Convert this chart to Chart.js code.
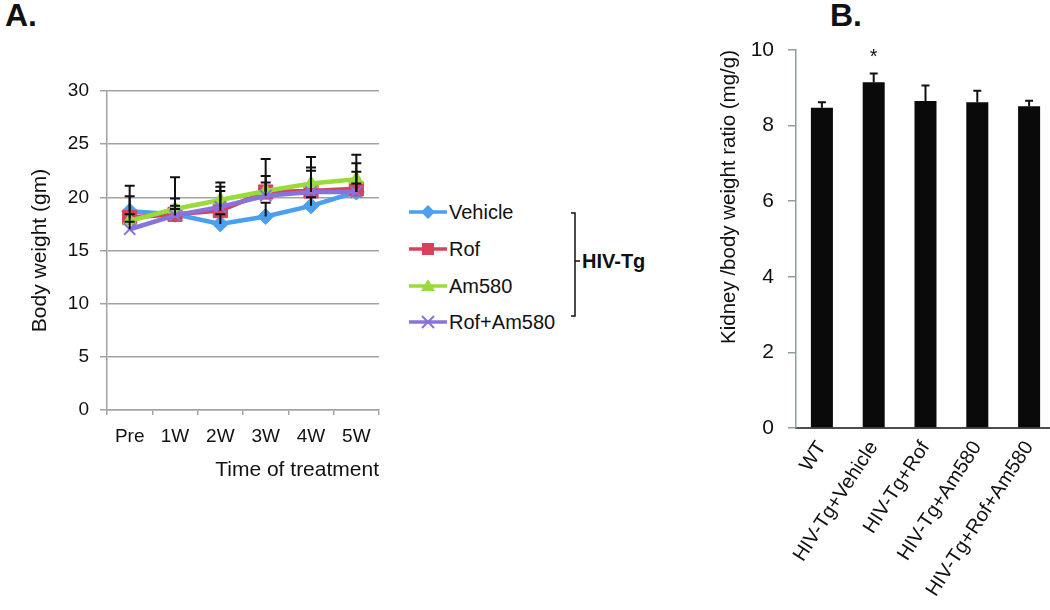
<!DOCTYPE html>
<html>
<head>
<meta charset="utf-8">
<script src="https://cdn.jsdelivr.net/npm/chart.js@4.4.1/dist/chart.umd.min.js"></script>
<style>
  html, body { margin: 0; padding: 0; width: 1050px; height: 610px; overflow: hidden; background: #fff; }
  body { position: relative; font-family: "Liberation Sans", Arial, sans-serif; color: #111; }
  .box { position: absolute; }
  .panel-label { position: absolute; font-size: 32px; font-weight: bold; line-height: 32px; }
  .leg-item { position: absolute; left: 409px; height: 24px; display: flex; align-items: center; font-size: 20px; }
  .leg-item svg { margin-right: 2px; }
</style>
</head>
<body>

<div class="panel-label" style="left:5px;top:-1px">A.</div>
<div class="panel-label" style="left:830px;top:-1px">B.</div>

<div class="box" style="left:0;top:0;width:392px;height:500px"><canvas id="weightChart"></canvas></div>
<div class="box" style="left:690px;top:0;width:370px;height:610px"><canvas id="ratioChart"></canvas></div>

<div id="legend"></div>
<svg class="box" style="left:560px;top:200px" width="30" height="130">
  <path d="M11,13 L15,13 L15,116 L11,116 M15,61 L20,61" fill="none" stroke="#111" stroke-width="1.5"/>
</svg>
<div class="box" style="left:582px;top:249px;font-size:20px;font-weight:bold;line-height:24px">HIV-Tg</div>

<script>
// ---- Panel A: body weight over time ----
const weeks       = ['Pre', '1W', '2W', '3W', '4W', '5W'];
const vehicle     = [18.7, 18.4, 17.5, 18.2, 19.2, 20.5];
const rof         = [18.1, 18.4, 18.75, 20.5, 20.6, 20.8];
const am580       = [17.8, 18.9, 19.75, 20.6, 21.3, 21.7];
const rofAm580    = [17.0, 18.3, 19.1, 20.15, 20.5, 20.5];
const vehicleErr  = [2.4, 1.5, 0.9, 1.3, 0.8, 0.8];
const rofErr      = [2.0, 0.8, 2.25, 3.1, 2.2, 2.4];
const am580Err    = [0.6, 3.0, 1.65, 1.4, 2.5, 2.3];
const rofAm580Err = [0.7, 0.6, 1.5, 1.25, 2.0, 1.9];
const weightTicks = [0, 5, 10, 15, 20, 25, 30];

// ---- Panel B: kidney / body weight ratio ----
const groups   = ['WT', 'HIV-Tg+Vehicle', 'HIV-Tg+Rof', 'HIV-Tg+Am580', 'HIV-Tg+Rof+Am580'];
const ratio    = [8.47, 9.15, 8.65, 8.62, 8.51];
const ratioErr = [0.15, 0.23, 0.41, 0.30, 0.15];
const sigMarks = ['', '*', '', '', ''];
const ratioTicks = [0, 2, 4, 6, 8, 10];

const FONT = '"Liberation Sans", Arial, sans-serif';
const TXT  = '#111';
const GRID = '#a3a3a3';

const series = [
  { label: 'Vehicle',    data: vehicle,  err: vehicleErr,  color: '#4b9ff0', style: 'rectRot', r: 8 },
  { label: 'Rof',        data: rof,      err: rofErr,      color: '#d6425c', style: 'rect',    r: 10 },
  { label: 'Am580',      data: am580,    err: am580Err,    color: '#98dc3a', style: 'triangle',r: 8 },
  { label: 'Rof+Am580',  data: rofAm580, err: rofAm580Err, color: '#8a72dc', style: 'crossRot',r: 8 },
];

// upward error bars (plus an optional significance mark) drawn through the scales
const errorBars = {
  id: 'errorBars',
  afterDatasetsDraw(chart) {
    const ctx = chart.ctx;
    const yScale = chart.scales.y;
    chart.data.datasets.forEach((ds, i) => {
      if (!ds.errorBars) return;
      const meta = chart.getDatasetMeta(i);
      ctx.save();
      ctx.strokeStyle = '#111';
      ctx.lineWidth = 2;
      meta.data.forEach((el, j) => {
        const top = yScale.getPixelForValue(ds.data[j] + ds.errorBars[j]);
        const base = yScale.getPixelForValue(ds.data[j]);
        const half = ds.capHalf || 5;
        ctx.beginPath();
        ctx.moveTo(el.x, base);
        ctx.lineTo(el.x, top);
        ctx.moveTo(el.x - half, top);
        ctx.lineTo(el.x + half, top);
        ctx.stroke();
        if (ds.marks && ds.marks[j]) {
          ctx.fillStyle = '#111';
          ctx.font = '20px ' + FONT;
          ctx.textAlign = 'center';
          ctx.textBaseline = 'middle';
          ctx.fillText(ds.marks[j], el.x, top - 16);
        }
      });
      ctx.restore();
    });
  }
};

new Chart(document.getElementById('weightChart'), {
  type: 'line',
  data: {
    labels: weeks,
    datasets: series.map((s, i) => ({
      label: s.label,
      data: s.data,
      errorBars: s.err,
      borderColor: s.color,
      backgroundColor: s.color,
      borderWidth: 4.5,
      pointStyle: s.style,
      pointRadius: s.r,
      pointBorderWidth: s.style === 'crossRot' ? 2 : 1,
      pointBorderColor: s.color,
      tension: 0,
      order: series.length - i,
    })),
  },
  options: {
    responsive: true, maintainAspectRatio: false, animation: false,
    layout: { padding: { top: 91, right: 13, bottom: 10, left: 0 } },
    plugins: { legend: { display: false }, tooltip: { enabled: false } },
    scales: {
      x: {
        offset: true,
        grid: { offset: true, drawOnChartArea: false, tickLength: 5, color: GRID, lineWidth: 1.5 },
        border: { color: GRID, width: 1.5 },
        ticks: { color: TXT, font: { family: FONT, size: 19 }, padding: 10, maxRotation: 0 },
        title: { display: true, text: 'Time of treatment', align: 'end', color: TXT,
                 font: { family: FONT, size: 21 }, padding: { top: 0, bottom: 7 } },
        afterFit: s => { s.height = 80; },
      },
      y: {
        min: 0, max: 30,
        afterBuildTicks: s => { s.ticks = weightTicks.map(v => ({ value: v })); },
        grid: { color: GRID, lineWidth: 1.5, tickLength: 7 },
        border: { color: GRID, width: 1.5 },
        ticks: { color: TXT, font: { family: FONT, size: 19 }, padding: 11 },
        title: { display: true, text: 'Body weight (gm)', color: TXT,
                 font: { family: FONT, size: 21 }, padding: { top: 28, bottom: 0 } },
        afterFit: s => { s.width = 107; },
      },
    },
  },
  plugins: [errorBars],
});

new Chart(document.getElementById('ratioChart'), {
  type: 'bar',
  data: {
    labels: groups,
    datasets: [{
      data: ratio,
      errorBars: ratioErr,
      marks: sigMarks,
      capHalf: 4,
      backgroundColor: '#0a0a0a',
      borderWidth: 0,
      barPercentage: 0.85,
      categoryPercentage: 0.5,
    }],
  },
  options: {
    responsive: true, maintainAspectRatio: false, animation: false,
    layout: { padding: { top: 50, right: 5, bottom: 0, left: 0 } },
    plugins: { legend: { display: false }, tooltip: { enabled: false } },
    scales: {
      x: {
        grid: { drawOnChartArea: false, drawTicks: false },
        border: { color: '#4d4d4d', width: 2 },
        ticks: { color: TXT, font: { family: FONT, size: 20 }, minRotation: 57, maxRotation: 57, padding: 9 },
        afterFit: s => { s.height = 182; },
      },
      y: {
        min: 0, max: 10,
        afterBuildTicks: s => { s.ticks = ratioTicks.map(v => ({ value: v })); },
        grid: { drawOnChartArea: false, tickLength: 8, color: '#8fa09c', lineWidth: 1.5 },
        border: { color: '#8fa09c', width: 1.5 },
        ticks: { color: TXT, font: { family: FONT, size: 21 }, padding: 14 },
        title: { display: true, text: 'Kidney /body weight ratio (mg/g)', color: TXT, align: 'end',
                 font: { family: FONT, size: 20.5 }, padding: { top: 27, bottom: 0 } },
        afterFit: s => { s.width = 106; },
      },
    },
  },
  plugins: [errorBars],
});

// ---- legend for panel A ----
const legendY = [212, 249, 286, 322];
const marker = (s) => {
  const c = s.color, cx = 19, cy = 12;
  if (s.style === 'rectRot') return `<polygon points="${cx},${cy-7} ${cx+7},${cy} ${cx},${cy+7} ${cx-7},${cy}" fill="${c}"/>`;
  if (s.style === 'rect') return `<rect x="${cx-6}" y="${cy-6}" width="12" height="12" fill="${c}"/>`;
  if (s.style === 'triangle') return `<polygon points="${cx},${cy-7} ${cx+7},${cy+5} ${cx-7},${cy+5}" fill="${c}"/>`;
  return `<path d="M${cx-6},${cy-6} L${cx+6},${cy+6} M${cx+6},${cy-6} L${cx-6},${cy+6}" stroke="${c}" stroke-width="2"/>`;
};
document.getElementById('legend').innerHTML = series.map((s, i) => `
  <div class="leg-item" style="top:${legendY[i] - 12}px">
    <svg width="38" height="24"><line x1="0" y1="12" x2="38" y2="12" stroke="${s.color}" stroke-width="3.5"/>${marker(s)}</svg>
    <span>${s.label}</span>
  </div>`).join('');
</script>
</body>
</html>
